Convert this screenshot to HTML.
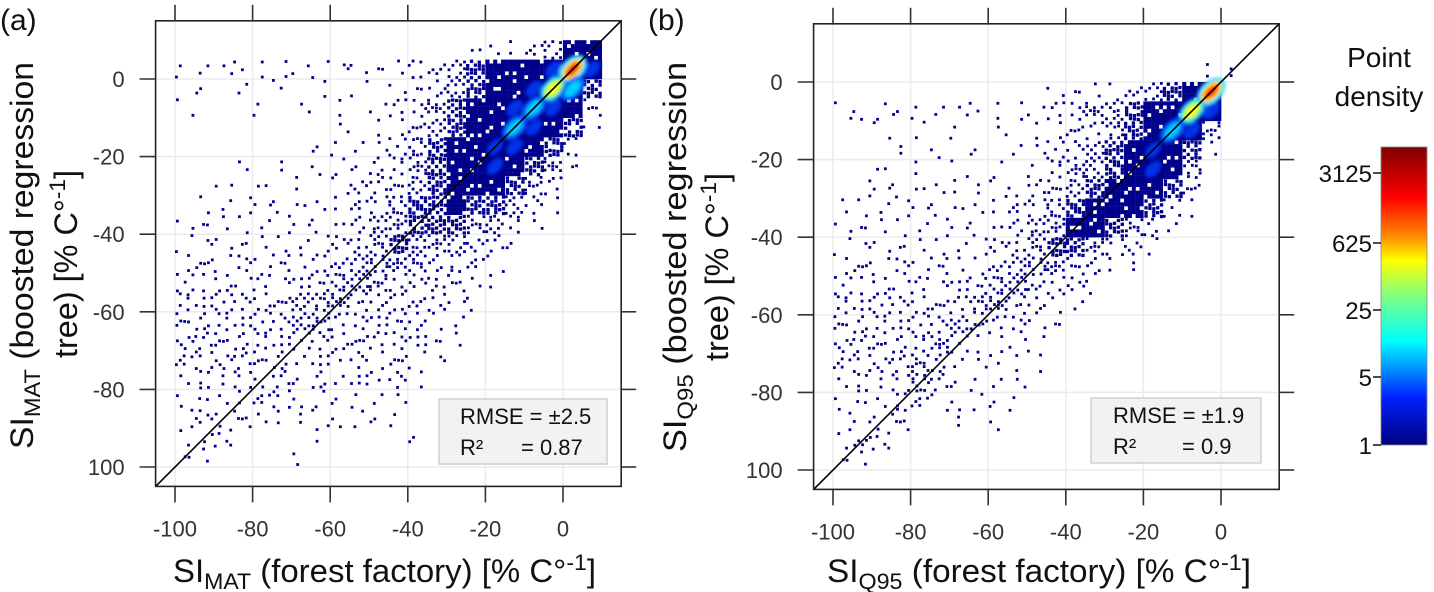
<!DOCTYPE html>
<html><head><meta charset="utf-8">
<style>
html,body{margin:0;padding:0;background:#fff;}
svg{display:block;font-family:"Liberation Sans",sans-serif;}
</style></head>
<body>
<svg id="chart" width="1434" height="592" viewBox="0 0 1434 592" xmlns="http://www.w3.org/2000/svg">
<defs><filter id="blur" x="-50%" y="-50%" width="200%" height="200%"><feGaussianBlur stdDeviation="1.5"/></filter></defs>
</svg>
<script>
// ---- data: binned point-density levels (0 empty .. 9 max), 5-unit cells
// columns: x from -105 to 15 ; rows: y from 15 down to -105
const axisTicks = [-100, -80, -60, -40, -20, 0];
const tickLabelsA = ["-100", "-80", "-60", "-40", "-20", "0"];
const yTickLabelsA = ["100", "-80", "-60", "-40", "-20", "0"];
const yTickLabelsB = ["100", "-80", "-60", "-40", "-20", "0"];
const densityA = [
  "000000000000000000000000",
  "000000000000000011123550",
  "011111111111122345556960",
  "001010101010112345568740",
  "010001010101223455676520",
  "000000000101123455765410",
  "000000001111234556654200",
  "000010101112234556543100",
  "000101010122234555432000",
  "001111111122344544321000",
  "011111111123344433210000",
  "011111111223433322100000",
  "012121212233332221000000",
  "021212122333222211000000",
  "022222233322222110000000",
  "022222233222221100000000",
  "022222222222221100000000",
  "022222212121211000000000",
  "012121212121210000000000",
  "011112211111100000000000",
  "012121111111100000000000",
  "011200001000010000000000",
  "011000010000000000000000",
  "000000000000000000000000"
];
const densityB = [
  "000000000000000000000000",
  "000000000000000000000000",
  "000000000000000000001100",
  "000000000000111123459000",
  "011111111111223345586000",
  "000101010101122345763000",
  "000010101011223456541000",
  "000101010101233456530000",
  "001111111112234555420000",
  "011111111122345554210000",
  "011111111123355432100000",
  "011111111223443221000000",
  "012121211233322110000000",
  "021212122332221000000000",
  "022222223322110000000000",
  "022222232221100000000000",
  "022222321111000000000000",
  "022223211111000000000000",
  "012123211110000000000000",
  "011122111110000000000000",
  "011120010100000000000000",
  "012200000000000000000000",
  "011000000000000000000000",
  "000000000000000000000000"
];
const colorbarTicks = ["3125", "625", "25", "5", "1"];

// ---- rendering
const NS = "http://www.w3.org/2000/svg";
const svg = document.getElementById("chart");
function mk(tag, attrs, parent) {
  const e = document.createElementNS(NS, tag);
  for (const k in attrs) e.setAttribute(k, attrs[k]);
  (parent || svg).appendChild(e);
  return e;
}
const DMIN = -105, DMAX = 15, PPU = 3.88;
const order = [12,0,24,4,20,6,18,2,22,10,14,8,16,1,23,3,21,5,19,7,17,9,15,11,13];
const coverage = [0,2,5,10,17,22,25,25,25,25];
const hotLayers = {
  6: [["#0030e8", 10, 6]],
  7: [["#0060ff", 15, 9], ["#00d0ff", 10, 5]],
  8: [["#00c0ff", 16, 10], ["#a0ff60", 12, 7], ["#ffff00", 8, 4]],
  9: [["#40e0ff", 17, 11], ["#ffd000", 13, 7], ["#ff2000", 9, 4]]
};

function panel(p) {
  const g = mk("g", {});
  
  
  const sx = v => p.x0 + v * PPU;
  const sy = v => p.y0 - v * PPU;
  const L = sx(DMIN), R = sx(DMAX), T = sy(DMAX), B = sy(DMIN);
  axisTicks.forEach(t => {
    const gv = mk("line", {x1: sx(t), x2: sx(t), y1: T, y2: B, stroke: "#ebebeb", "stroke-width": 1.5}, g);
    
    
    const gh = mk("line", {x1: L, x2: R, y1: sy(t), y2: sy(t), stroke: "#ebebeb", "stroke-width": 1.5}, g);
    
    
  });
  const cells = mk("g", {}, g);
  
  
  const hot = mk("g", {filter: "url(#blur)"}, g);
  
  
  const hotBands = [[], [], []];
  p.data.forEach((row, r) => {
    for (let c = 0; c < row.length; c++) {
      const lvl = +row[c];
      if (!lvl) continue;
      const xv = DMIN + c * 5, yv = DMAX - r * 5;
      const cx = sx(xv), cy = sy(yv), cw = PPU;
      if (lvl >= 6) {
        const full = mk("rect", {x: cx, y: cy, width: 5 * cw + 0.3, height: 5 * cw + 0.3, fill: "#00008b"}, cells);
        
        
        const mx = cx + 2.5 * cw, my = cy + 2.5 * cw;
        hotLayers[lvl].forEach((h, li) => {
          hotBands[li].push([mx, my, h]);
        });
        continue;
      }
      const n = coverage[lvl];
      const off = (r * 11 + c * 7) % 25;
      for (let k = 0; k < n; k++) {
        const idx = order[(k + off) % 25];
        const i = idx % 5, j = Math.floor(idx / 5);
        const jx = ((idx * 3 + r + c) % 3) * 0.5, jy = ((idx + r * 2 + c) % 3) * 0.5;
        const d = lvl >= 5 ? cw + 0.2 : (lvl == 4 ? cw * 0.85 : cw * 0.72);
        const rc = mk("rect", {x: cx + i * cw + (lvl >= 5 ? 0 : jx), y: cy + j * cw + (lvl >= 5 ? 0 : jy), width: d, height: d, fill: "#00008b"}, cells);
        
        
      }
    }
  });
  hotBands.forEach(band => band.forEach(b => {
    const [mx, my, h] = b;
    const el = mk("ellipse", {cx: mx, cy: my, rx: h[1], ry: h[2], fill: h[0], transform: `rotate(-45 ${mx} ${my})`}, hot);
    
    
  }));
  const dg = mk("line", {x1: sx(DMIN), y1: sy(DMIN), x2: sx(DMAX), y2: sy(DMAX), stroke: "#000", "stroke-width": 1.6}, g);
  
  
  const bx = mk("rect", {x: L, y: T, width: R - L, height: B - T, fill: "none", stroke: "#222", "stroke-width": 1.6}, g);
  
  
  axisTicks.forEach((t, i) => {
    [[sx(t), T - 16, sx(t), T], [sx(t), B, sx(t), B + 16], [L - 16, sy(t), L, sy(t)], [R, sy(t), R + 15, sy(t)]].forEach(a => {
      const tk = mk("line", {x1: a[0], y1: a[1], x2: a[2], y2: a[3], stroke: "#333", "stroke-width": 1.6}, g);
      
      
    });
    const xl = mk("text", {x: sx(t), y: B + 50, "text-anchor": "middle", "font-size": 22, fill: "#333"}, g);
    xl.textContent = p.xLabels[i];
    
    
    const yl = mk("text", {x: L - 31, y: sy(t) + 8, "text-anchor": "end", "font-size": 22, fill: "#333"}, g);
    yl.textContent = p.yLabels[i];
    
    
  });
  return g;
}

panel({name: "panel-a", x0: 563, y0: 79, data: densityA, xLabels: tickLabelsA, yLabels: yTickLabelsA});
panel({name: "panel-b", x0: 1221, y0: 82, data: densityB, xLabels: tickLabelsA, yLabels: yTickLabelsB});

const defs = mk("defs", {});
const lg = mk("linearGradient", {id: "jet", x1: 0, y1: 0, x2: 0, y2: 1}, defs);
[[0,"#7f0000"],[0.17,"#ff0000"],[0.30,"#ff8c00"],[0.38,"#ffff00"],[0.5,"#80ff80"],[0.65,"#00ffff"],[0.84,"#0020ff"],[1,"#00007f"]].forEach(s => mk("stop", {offset: s[0], "stop-color": s[1]}, lg));
const cb = mk("rect", {x: 1381, y: 147, width: 46, height: 298, fill: "url(#jet)", stroke: "#888", "stroke-width": 0.8});


const cbY = [173, 243, 310, 377, 445];
colorbarTicks.forEach((t, i) => {
  const tx = mk("text", {x: 1372, y: cbY[i] + 9, "text-anchor": "end", "font-size": 24, fill: "#111"});
  tx.textContent = t;
  
  
  const tl = mk("line", {x1: 1373, x2: 1381, y1: cbY[i], y2: cbY[i], stroke: "#111", "stroke-width": 1.5});
  
  
});
</script>
<script>
(function(){
  const NS = "http://www.w3.org/2000/svg";
  const svg = document.getElementById("chart");
  function txt(name, x, y, s, size, extra, parts) {
    const t = document.createElementNS(NS, "text");
    t.setAttribute("x", x); t.setAttribute("y", y);
    t.setAttribute("font-size", size); t.setAttribute("fill", "#111");
    for (const k in (extra||{})) t.setAttribute(k, extra[k]);
    
    
    if (parts) {
      parts.forEach(pt => {
        const ts = document.createElementNS(NS, "tspan");
        if (pt[1]) { ts.setAttribute("baseline-shift", pt[1]); ts.setAttribute("font-size", size * 0.7); }
        ts.textContent = pt[0];
        t.appendChild(ts);
      });
    } else t.textContent = s;
    svg.appendChild(t);
    return t;
  }
  txt("panel-a-label", 0, 30, "(a)", 30);
  txt("panel-b-label", 648, 30, "(b)", 30);
  txt("x-axis-title-a", 173, 582, "", 32, {textLength: 423, lengthAdjust: "spacingAndGlyphs"},
      [["SI"],["MAT","-30%"],[" (forest factory) [% C°"],["-1","super"],["]"]]);
  txt("x-axis-title-b", 827, 582, "", 32, {textLength: 424, lengthAdjust: "spacingAndGlyphs"},
      [["SI"],["Q95","-30%"],[" (forest factory) [% C°"],["-1","super"],["]"]]);
  txt("y-axis-title-a", -449, 33, "", 32, {transform: "rotate(-90)", textLength: 387, lengthAdjust: "spacingAndGlyphs"},
      [["SI"],["MAT","-30%"],[" (boosted regression"]]);
  txt("y-axis-title-a-line2", -358, 77, "", 32, {transform: "rotate(-90)", textLength: 188, lengthAdjust: "spacingAndGlyphs"},
      [["tree) [% C°"],["-1","super"],["]"]]);
  txt("y-axis-title-b", -452, 686, "", 32, {transform: "rotate(-90)", textLength: 390, lengthAdjust: "spacingAndGlyphs"},
      [["SI"],["Q95","-30%"],[" (boosted regression"]]);
  txt("y-axis-title-b-line2", -361, 728, "", 32, {transform: "rotate(-90)", textLength: 188, lengthAdjust: "spacingAndGlyphs"},
      [["tree) [% C°"],["-1","super"],["]"]]);
  function statBox(name, x, y, w, h, tx, rmse, r2x, r2) {
    const r = document.createElementNS(NS, "rect");
    r.setAttribute("x", x); r.setAttribute("y", y); r.setAttribute("width", w); r.setAttribute("height", h);
    r.setAttribute("fill", "#f2f2f2"); r.setAttribute("stroke", "#cfcfcf"); r.setAttribute("stroke-width", 1.5);
    
    
    svg.appendChild(r);
    txt(name + "-rmse", tx, y + 25, rmse, 22);
    txt(name + "-r2-label", tx, y + 56, "R²", 22);
    txt(name + "-r2-value", r2x, y + 56, r2, 22);
  }
  statBox("stats-box-a", 439, 399, 168, 65, 460, "RMSE = ±2.5", 521, "= 0.87");
  statBox("stats-box-b", 1091, 398, 170, 65, 1113, "RMSE = ±1.9", 1182, "= 0.9");
  txt("colorbar-title-line1", 1379, 67, "Point", 28, {"text-anchor": "middle"});
  txt("colorbar-title-line2", 1379, 106, "density", 28, {"text-anchor": "middle"});
})();
</script>
</body></html>
